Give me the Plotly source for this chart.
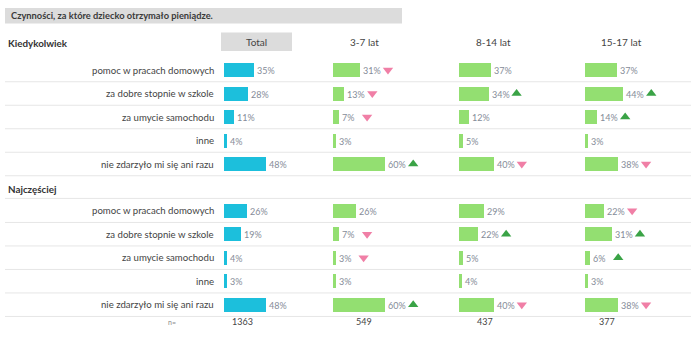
import plotly.graph_objects as go

# ---------------- data ----------------
title = "Czynności, za które dziecko otrzymało pieniądze."
sections = ["Kiedykolwiek", "Najczęściej"]
categories = ["pomoc w pracach domowych", "za dobre stopnie w szkole",
              "za umycie samochodu", "inne", "nie zdarzyło mi się ani razu"]
columns = ["Total", "3-7 lat", "8-14 lat", "15-17 lat"]

# section 1: Kiedykolwiek
s1_total = [35, 28, 11, 4, 48]
s1_3_7 = [31, 13, 7, 3, 60]
s1_8_14 = [37, 34, 12, 5, 40]
s1_15_17 = [37, 44, 14, 3, 38]
# section 2: Najczęściej
s2_total = [26, 19, 4, 3, 48]
s2_3_7 = [26, 7, 3, 3, 60]
s2_8_14 = [29, 22, 5, 4, 40]
s2_15_17 = [22, 31, 6, 3, 38]

# significance arrows: 1 = up, -1 = down, 0 = none
s1_arr_3_7 = [-1, -1, -1, 0, 1]
s1_arr_8_14 = [0, 1, 0, 0, -1]
s1_arr_15_17 = [0, 1, 1, 0, -1]
s2_arr_3_7 = [0, -1, -1, 0, 1]
s2_arr_8_14 = [0, 1, 0, 0, -1]
s2_arr_15_17 = [-1, 1, 1, 0, -1]

n_values = [1363, 549, 437, 377]

# ---------------- layout constants ----------------
W, H = 700, 342
col_start = [224, 333, 459, 585]       # px where each column's bars start
col_w = 100                              # px width of each column axis
px_per_pct = 0.87
rng = col_w / px_per_pct
row_gap = 23.5
section_first_row = [70, 210.7]
section_header_y = [42.7, 189.3]
bar_h = 14
arrow_offset = 28 / px_per_pct

blue = "#1cbfdc"
green = "#93df71"
up_col = "#3aa346"
down_col = "#f07fa6"
pct_col = "#858c98"
lab_col = "#444444"
FONT = "Lato"

data = {
    0: [s1_total, s1_3_7, s1_8_14, s1_15_17],
    1: [s2_total, s2_3_7, s2_8_14, s2_15_17],
}
arrows = {
    0: [None, s1_arr_3_7, s1_arr_8_14, s1_arr_15_17],
    1: [None, s2_arr_3_7, s2_arr_8_14, s2_arr_15_17],
}

fig = go.Figure()
annotations = []
shapes = []

axis_names = ["x", "x2", "x3", "x4"]

for s in range(2):
    ys = [section_first_row[s] + i * row_gap for i in range(len(categories))]
    for c in range(4):
        vals = data[s][c]
        fig.add_trace(go.Bar(
            x=vals, y=ys, orientation="h", width=bar_h,
            marker=dict(color=blue if c == 0 else green, line=dict(width=0)),
            text=[f"{v}%" for v in vals], textposition="outside",
            constraintext="none", cliponaxis=False,
            textfont=dict(family=FONT, size=9, color=pct_col),
            xaxis=axis_names[c], yaxis="y", showlegend=False, hoverinfo="skip",
        ))
        arr = arrows[s][c]
        if arr is not None:
            for kind, sym, col in [(1, "triangle-up", up_col), (-1, "triangle-down", down_col)]:
                xs = [v + arrow_offset for v, a in zip(vals, arr) if a == kind]
                yy = [y for y, a in zip(ys, arr) if a == kind]
                if xs:
                    fig.add_trace(go.Scatter(
                        x=xs, y=yy, mode="markers", cliponaxis=False,
                        marker=dict(symbol=sym, size=9, color=col, line=dict(width=0)),
                        xaxis=axis_names[c], yaxis="y", showlegend=False, hoverinfo="skip",
                    ))
    # row labels
    for cat, y in zip(categories, ys):
        annotations.append(dict(text=cat, x=216 / W, xref="paper", y=y, yref="y",
                                xanchor="right", yanchor="middle", showarrow=False,
                                font=dict(family=FONT, size=9.6, color=lab_col)))
    # section header
    annotations.append(dict(text=f"<b>{sections[s]}</b>", x=6 / W, xref="paper",
                            y=section_header_y[s], yref="y", xanchor="left",
                            yanchor="middle", showarrow=False,
                            font=dict(family=FONT, size=9.8, color="#333333")))
    # separators
    line_ys = [y + row_gap / 2 for y in ys]
    if s == 1:
        line_ys = [ys[0] - 12.3] + line_ys
    for ly in line_ys:
        shapes.append(dict(type="line", xref="paper", yref="y", x0=5 / W, x1=691 / W,
                           y0=ly, y1=ly, line=dict(color="#e6e6e6", width=1), layer="below"))

# title bar
shapes.append(dict(type="rect", xref="paper", yref="y", x0=5 / W, x1=402 / W, y0=8, y1=23.5,
                   fillcolor="#dcdcdc", line=dict(width=0), layer="below"))
annotations.append(dict(text=f"<b>{title}</b>", x=9 / W, xref="paper", y=15.5, yref="y",
                        xanchor="left", yanchor="middle", showarrow=False,
                        font=dict(family=FONT, size=9.3, color="#3a3a3a")))

# column headers
shapes.append(dict(type="rect", xref="paper", yref="y", x0=221 / W, x1=292 / W, y0=32.5, y1=51,
                   fillcolor="#dcdcdc", line=dict(width=0), layer="below"))
header_x = [256.5, 364, 493, 621.5]
for name, hx in zip(columns, header_x):
    annotations.append(dict(text=name, x=hx / W, xref="paper", y=41.8, yref="y",
                            xanchor="center", yanchor="middle", showarrow=False,
                            font=dict(family=FONT, size=10, color="#444444")))

# n row
n_x = [242.7, 364, 485, 606.7]
annotations.append(dict(text="n=", x=172 / W, xref="paper", y=321.7, yref="y",
                        xanchor="center", yanchor="middle", showarrow=False,
                        font=dict(family=FONT, size=7, color="#888888")))
for nv, nx in zip(n_values, n_x):
    annotations.append(dict(text=str(nv), x=nx / W, xref="paper", y=321.7, yref="y",
                            xanchor="center", yanchor="middle", showarrow=False,
                            font=dict(family=FONT, size=9, color="#444444")))

layout_axes = {}
for c, name in enumerate(axis_names):
    key = "xaxis" if c == 0 else f"xaxis{c + 1}"
    layout_axes[key] = dict(domain=[col_start[c] / W, (col_start[c] + col_w) / W],
                            range=[0, rng], visible=False, fixedrange=True, anchor="y")

fig.update_layout(
    width=W, height=H, margin=dict(l=0, r=0, t=0, b=0),
    paper_bgcolor="white", plot_bgcolor="white",
    yaxis=dict(range=[H, 0], domain=[0, 1], visible=False, fixedrange=True),
    barmode="overlay", bargap=0,
    annotations=annotations, shapes=shapes,
    font=dict(family=FONT),
    **layout_axes,
)

fig.write_html("out.html", config={"displayModeBar": False})
